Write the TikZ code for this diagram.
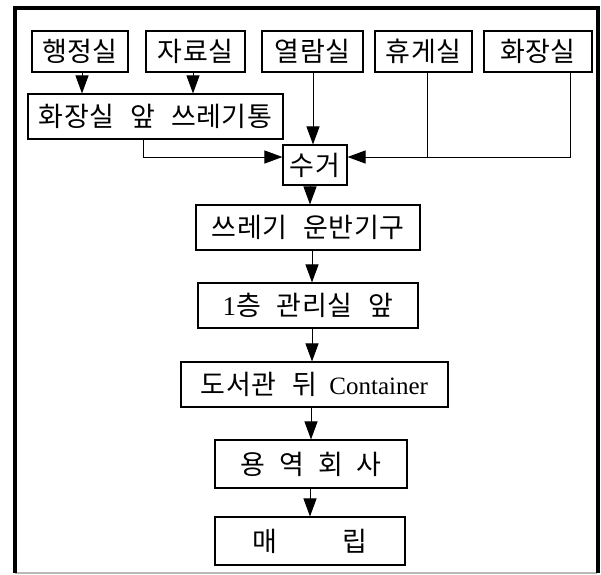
\documentclass[tikz,border=0pt]{standalone}
\usepackage{fontspec}
\newfontfamily\kr[LetterSpace=2]{Noto Sans CJK KR}
\newfontfamily\lat{Liberation Serif}
\usetikzlibrary{arrows.meta}
\newcommand{\ksp}{\hspace{16pt}}
\begin{document}
\begin{tikzpicture}[x=1pt,y=-1pt,
  box/.style={draw,line width=1.1pt,rectangle,inner sep=0pt,font=\kr\fontsize{27}{32}\selectfont},
  arr/.style={line width=1pt,-{Triangle[length=18pt,width=13pt]}},
  ln/.style={line width=1pt}]
\useasboundingbox (0,0) rectangle (601,574);
\fill[white] (0,0) rectangle (601,574);
% frame
\draw[gray!55,line width=1.5pt] (15,573) -- (597,573);
\draw[line width=4pt] (14.5,573) -- (14.5,8) -- (597.5,8) -- (597.5,573);
% top row
\node[box,minimum width=96pt,minimum height=41pt] (a) at (80,51.5) {행정실};
\node[box,minimum width=99pt,minimum height=41pt] (b) at (195.5,51.5) {자료실};
\node[box,minimum width=101pt,minimum height=41pt] (c) at (312.5,51.5) {열람실};
\node[box,minimum width=97pt,minimum height=41pt] (d) at (423.5,51.5) {휴게실};
\node[box,minimum width=108pt,minimum height=41pt] (e) at (538,51.5) {화장실};
% second row
\node[box,minimum width=255pt,minimum height=45pt] (t) at (155.5,116.5) {화장실\ksp 앞\ksp 쓰레기통};
\node[box,minimum width=64pt,minimum height=40pt] (s) at (315,165) {수거};
% chain
\node[box,minimum width=224pt,minimum height=45pt] (u) at (308,227.5) {쓰레기\ksp 운반기구};
\node[box,minimum width=220pt,minimum height=45pt] (f) at (308,305.5) {{\lat\fontsize{27}{32}\selectfont 1}층\ksp 관리실\ksp 앞};
\node[box,minimum width=267pt,minimum height=45pt] (g) at (314.5,384.5) {도서관\ksp 뒤\hspace{12pt}{\lat\fontsize{25}{30}\selectfont Container}};
\node[box,minimum width=192pt,minimum height=48pt] (h) at (311,464) {용\hspace{14pt}역\hspace{14pt}회\hspace{14pt}사};
\node[box,minimum width=190pt,minimum height=48pt] (i) at (310,541) {매\hspace{66pt}립};
% arrows top
\draw[arr] (a.south -| 82,0) -- (t.north -| 82,0);
\draw[arr] (b.south -| 193,0) -- (t.north -| 193,0);
\draw[arr] (c.south -| 313,0) -- (s.north -| 313,0);
\draw[arr] (t.south -| 143,0) |- ([yshift=8pt]s.west);
\draw[ln] (d.south -| 427,0) -- (427,157);
\draw[arr] (e.south -| 570,0) |- ([yshift=8pt]s.east);
% chain arrows
\draw[arr] (s.south -| 310,0) -- (u.north -| 310,0);
\draw[arr] (u.south -| 312,0) -- (f.north -| 312,0);
\draw[arr] (f.south -| 312,0) -- (g.north -| 312,0);
\draw[arr] (g.south -| 311,0) -- (h.north -| 311,0);
\draw[arr] (h.south -| 310,0) -- (i.north -| 310,0);
\end{tikzpicture}
\end{document}
